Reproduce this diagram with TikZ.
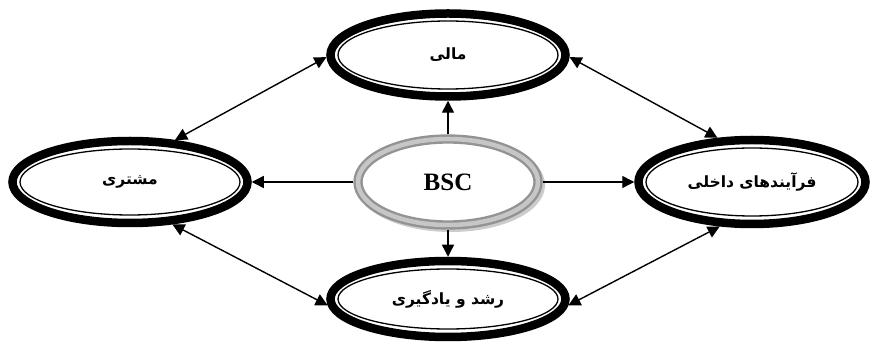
\documentclass[tikz,border=0pt]{standalone}
\usepackage{fontspec}
\usetikzlibrary{shapes.geometric,arrows.meta}
\TeXXeTstate=1
\newfontfamily\fafont[Script=Arabic]{DejaVu Sans}
\newfontfamily\latinfont{Liberation Serif}

\tikzset{
  ring/.style={ellipse, draw=black, line width=8.5pt, inner sep=0pt,
               font=\fafont\bfseries\fontsize{15.5}{18}\selectfont},
  innerline/.style={draw=black, line width=1.3pt},
  bscring/.style={ellipse, draw=gray!85, line width=2.4pt,
                  double=gray!45, double distance=4.5pt, inner sep=0pt,
                  outer sep=4.6pt, fill=white,
                  font=\latinfont\bfseries\fontsize{25}{28}\selectfont},
  bscshadow/.style={draw=gray!40, line width=8pt},
  arr/.style={line width=1.4pt, -{Triangle[length=12pt,width=12pt]}},
  biarr/.style={line width=1.4pt, {Triangle[length=12pt,width=12pt]}-{Triangle[length=12pt,width=12pt]}},
}

\begin{document}
\begin{tikzpicture}[x=1pt,y=-1pt]
  \useasboundingbox (0,0) rectangle (875,344);

  % four perspective ellipses with a thick-thin border
  \node[ring, minimum width=235pt, minimum height=83pt] (mali) at (448,55)
    {\beginR مالی\endR};
  \node[ring, minimum width=235pt, minimum height=82pt] (moshtari) at (130,182)
    {\beginR مشتری\endR};
  \node[ring, minimum width=227pt, minimum height=84pt] (farayand) at (752,182)
    {\beginR فرآیندهای داخلی\endR};
  \node[ring, minimum width=235pt, minimum height=76pt] (roshd) at (448,299)
    {\beginR رشد و یادگیری\endR};

  \draw[innerline] (mali.center) ellipse [x radius=110pt, y radius=34pt];
  \draw[innerline] (moshtari.center) ellipse [x radius=110pt, y radius=33pt];
  \draw[innerline] (farayand.center) ellipse [x radius=106pt, y radius=34pt];
  \draw[innerline] (roshd.center) ellipse [x radius=110pt, y radius=30pt];

  % central BSC ellipse with its soft shadow
  \draw[bscshadow] (451,185) ellipse [x radius=90pt, y radius=43pt];
  \node[bscring, minimum width=180pt, minimum height=86pt] (bsc) at (448,182) {BSC};

  % arrows from the centre
  \draw[arr] (bsc.north) -- (mali.south);
  \draw[arr] (bsc.south) -- (roshd.north);
  \draw[arr] (bsc.west) -- (moshtari.east);
  \draw[arr] (bsc.east) -- (farayand.west);

  % two-way links between neighbouring perspectives
  \draw[biarr] (moshtari.43) -- (mali.181);
  \draw[biarr] (mali.-1) -- (farayand.128);
  \draw[biarr] (farayand.234) -- (roshd.-3);
  \draw[biarr] (roshd.183) -- (moshtari.-45);
\end{tikzpicture}
\end{document}
